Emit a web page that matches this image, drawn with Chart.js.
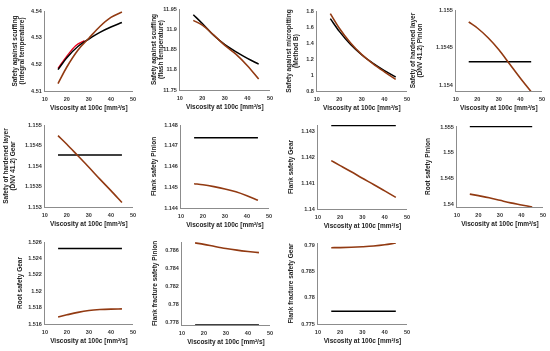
<!DOCTYPE html>
<html>
<head>
<meta charset="utf-8">
<script src="https://cdn.jsdelivr.net/npm/chart.js@4.4.1/dist/chart.umd.min.js"></script>
<style>
  html, body { margin: 0; padding: 0; background: #fff; }
  #wrap { position: relative; width: 550px; height: 351px; overflow: hidden; }
  #wrap canvas { position: absolute; }
</style>
</head>
<body>
<div id="wrap"></div>
<script>
// ---- data ----
const visc = [16, 20, 25, 30, 35, 40, 45];
const viscRed = [16, 20, 24, 28];
const xTicks = [10, 20, 30, 40, 50];
const xTitle = "Viscosity at 100c [mm\u00b2/s]";

const scuffIntBlack = [4.5180, 4.5225, 4.5267, 4.5295, 4.5320, 4.5340, 4.5357];
const scuffIntBrown = [4.5128, 4.5190, 4.5253, 4.5298, 4.5342, 4.5376, 4.5396];
const scuffIntRed = [4.5185, 4.5231, 4.5270, 4.5289];
const scuffIntTicks = [4.51, 4.52, 4.53, 4.54];

const scuffFlashBlack = [11.936, 11.914, 11.885, 11.862, 11.844, 11.828, 11.814];
const scuffFlashBrown = [11.922, 11.910, 11.886, 11.860, 11.838, 11.810, 11.777];
const scuffFlashTicks = [11.75, 11.8, 11.85, 11.9, 11.95];

const microBlack = [1.704, 1.545, 1.380, 1.250, 1.145, 1.055, 0.975];
const microBrown = [1.767, 1.585, 1.400, 1.255, 1.140, 1.040, 0.946];
const microTicks = [0.8, 1, 1.2, 1.4, 1.6, 1.8];

const hlPinionBlack = [1.15431, 1.15431, 1.15431, 1.15431, 1.15431, 1.15431, 1.15431];
const hlPinionBrown = [1.15484, 1.15476, 1.15463, 1.15447, 1.15428, 1.15409, 1.15391];
const hlPinionTicks = [1.154, 1.1545, 1.155];

const hlGearBlack = [1.15427, 1.15427, 1.15427, 1.15427, 1.15427, 1.15427, 1.15427];
const hlGearBrown = [1.15474, 1.15453, 1.15425, 1.15397, 1.15368, 1.15340, 1.15311];
const hlGearTicks = [1.153, 1.1535, 1.154, 1.1545, 1.155];

const flankPinionBlack = [1.14739, 1.14739, 1.14739, 1.14739, 1.14739, 1.14739, 1.14739];
const flankPinionBrown = [1.14517, 1.14512, 1.14503, 1.14492, 1.14478, 1.14459, 1.14437];
const flankPinionTicks = [1.144, 1.145, 1.146, 1.147, 1.148];

const flankGearBlack = [1.14323, 1.14323, 1.14323, 1.14323, 1.14323, 1.14323, 1.14323];
const flankGearBrown = [1.14187, 1.14168, 1.14144, 1.14119, 1.14095, 1.14070, 1.14045];
const flankGearTicks = [1.14, 1.141, 1.142, 1.143];

const rootPinionBlack = [1.5551, 1.5551, 1.5551, 1.5551, 1.5551, 1.5551, 1.5551];
const rootPinionBrown = [1.5420, 1.5417, 1.5413, 1.5408, 1.5403, 1.5399, 1.5395];
const rootPinionTicks = [1.54, 1.545, 1.55, 1.555];

const rootGearBlack = [1.52522, 1.52522, 1.52522, 1.52522, 1.52522, 1.52522, 1.52522];
const rootGearBrown = [1.51686, 1.51712, 1.51742, 1.51764, 1.51776, 1.51782, 1.51784];
const rootGearTicks = [1.516, 1.518, 1.52, 1.522, 1.524, 1.526];

const ffPinionBlack = [0.7777, 0.7777, 0.7777, 0.7777, 0.7777, 0.7777, 0.7777];
const ffPinionBrown = [0.78680, 0.78664, 0.78640, 0.78618, 0.78600, 0.78585, 0.78572];
const ffPinionTicks = [0.778, 0.78, 0.782, 0.784, 0.786];

const ffGearBlack = [0.77746, 0.77746, 0.77746, 0.77746, 0.77746, 0.77746, 0.77746];
const ffGearBrown = [0.78960, 0.78962, 0.78968, 0.78978, 0.78992, 0.79015, 0.79050];
const ffGearTicks = [0.775, 0.78, 0.785, 0.79];

// ---- panel table ----
const panels = [
  { title: ["Safety against scuffing", "(integral temperature)"], black: scuffIntBlack, brown: scuffIntBrown, red: scuffIntRed, ticks: scuffIntTicks, min: 4.51, max: 4.54 },
  { title: ["Safety against scuffing", "(flash temperature)"], black: scuffFlashBlack, brown: scuffFlashBrown, ticks: scuffFlashTicks, min: 11.75, max: 11.95 },
  { title: ["Safety against micropitting", "(Method B)"], black: microBlack, brown: microBrown, ticks: microTicks, min: 0.8, max: 1.8 },
  { title: ["Safety of hardened layer", "(DNV 41.2) Pinion"], black: hlPinionBlack, brown: hlPinionBrown, ticks: hlPinionTicks, min: 1.15392, max: 1.155 },
  { title: ["Safety of hardened layer", "(DNV 41.2) Gear"], black: hlGearBlack, brown: hlGearBrown, ticks: hlGearTicks, min: 1.153, max: 1.155 },
  { title: ["Flank safety Pinion"], black: flankPinionBlack, brown: flankPinionBrown, ticks: flankPinionTicks, min: 1.144, max: 1.148 },
  { title: ["Flank safety Gear"], black: flankGearBlack, brown: flankGearBrown, ticks: flankGearTicks, min: 1.14, max: 1.14325 },
  { title: ["Root safety Pinion"], black: rootPinionBlack, brown: rootPinionBrown, ticks: rootPinionTicks, min: 1.5395, max: 1.5552 },
  { title: ["Root safety Gear"], black: rootGearBlack, brown: rootGearBrown, ticks: rootGearTicks, min: 1.516, max: 1.526 },
  { title: ["Flank fracture safety Pinion"], black: ffPinionBlack, brown: ffPinionBrown, ticks: ffPinionTicks, min: 0.7777, max: 0.7869 },
  { title: ["Flank fracture safety Gear"], black: ffGearBlack, brown: ffGearBrown, ticks: ffGearTicks, min: 0.775, max: 0.7905 }
];

// layout: [axis x, plot top, plot bottom, plot right, title offset from axis]
const boxes = [
  [45, 11, 91, 133, 26], [180, 9, 90, 270, 22], [317, 11, 91, 407, 24], [456, 10, 91, 542, 39],
  [45, 125, 207, 133, 35], [181, 125, 208, 269, 27], [318, 125, 209, 407, 27], [457, 126, 207, 543, 29],
  [45, 242, 324, 133, 25], [182, 242, 325, 270, 27], [318, 243, 324, 407, 27]
];

const FONT = "'Liberation Sans', Arial, sans-serif";
const TITLE_SIZE = 6.5;
const LH = TITLE_SIZE * 1.2;
const PAD_TOP = 8, PAD_RIGHT = 8, X_H = 22;

function pts(xs, ys) {
  return ys.map((y, i) => ({ x: xs[i], y }));
}

function fmt(v) {
  return String(Number(v.toFixed(5)));
}

const wrap = document.getElementById("wrap");

panels.forEach((p, i) => {
  const [ax, top, bottom, right, tOff] = boxes[i];
  const yW = tOff + 2 + p.title.length * LH / 2;
  const canvas = document.createElement("canvas");
  const w = Math.round(yW + (right - ax) + PAD_RIGHT);
  const h = Math.round(PAD_TOP + (bottom - top) + X_H);
  canvas.width = w;
  canvas.height = h;
  canvas.style.left = (ax - yW) + "px";
  canvas.style.top = (top - PAD_TOP) + "px";
  canvas.style.width = w + "px";
  canvas.style.height = h + "px";
  wrap.appendChild(canvas);

  const datasets = [
    { data: pts(visc, p.brown), borderColor: "#923a12", borderWidth: 1.6 },
    { data: pts(visc, p.black), borderColor: "#000000", borderWidth: 1.5 }
  ];
  if (p.red) {
    datasets.push({ data: pts(viscRed, p.red), borderColor: "#e8001c", borderWidth: 1.3 });
  }

  new Chart(canvas, {
    type: "line",
    data: { datasets },
    options: {
      responsive: false,
      animation: false,
      devicePixelRatio: 1,
      layout: { padding: { top: PAD_TOP, right: PAD_RIGHT, left: 0, bottom: 0 } },
      elements: {
        point: { radius: 0 },
        line: { tension: 0.4, cubicInterpolationMode: "monotone" }
      },
      plugins: { legend: { display: false }, tooltip: { enabled: false } },
      scales: {
        x: {
          type: "linear",
          min: 10, max: 50,
          afterBuildTicks: s => { s.ticks = xTicks.map(v => ({ value: v })); },
          afterFit: s => { s.height = X_H; },
          grid: { display: false, drawTicks: false },
          border: { display: true, color: "#8c8c8c", width: 1 },
          ticks: { padding: 5, color: "#333", font: { family: FONT, size: 5.5, weight: "bold" }, maxRotation: 0 },
          title: { display: true, text: xTitle, color: "#222", padding: { top: 0, bottom: 1 }, font: { family: FONT, size: TITLE_SIZE, weight: "bold" } }
        },
        y: {
          min: p.min, max: p.max,
          afterBuildTicks: s => { s.ticks = p.ticks.map(v => ({ value: v })); },
          afterFit: s => { s.width = yW; },
          grid: { display: false, drawTicks: false },
          border: { display: true, color: "#8c8c8c", width: 1 },
          ticks: { padding: 3, color: "#333", font: { family: FONT, size: 5.5, weight: "bold" }, callback: v => fmt(v) },
          title: { display: true, text: p.title, color: "#222", padding: { top: 2, bottom: 0 }, font: { family: FONT, size: TITLE_SIZE, weight: "bold" } }
        }
      }
    }
  });
});
</script>
</body>
</html>
